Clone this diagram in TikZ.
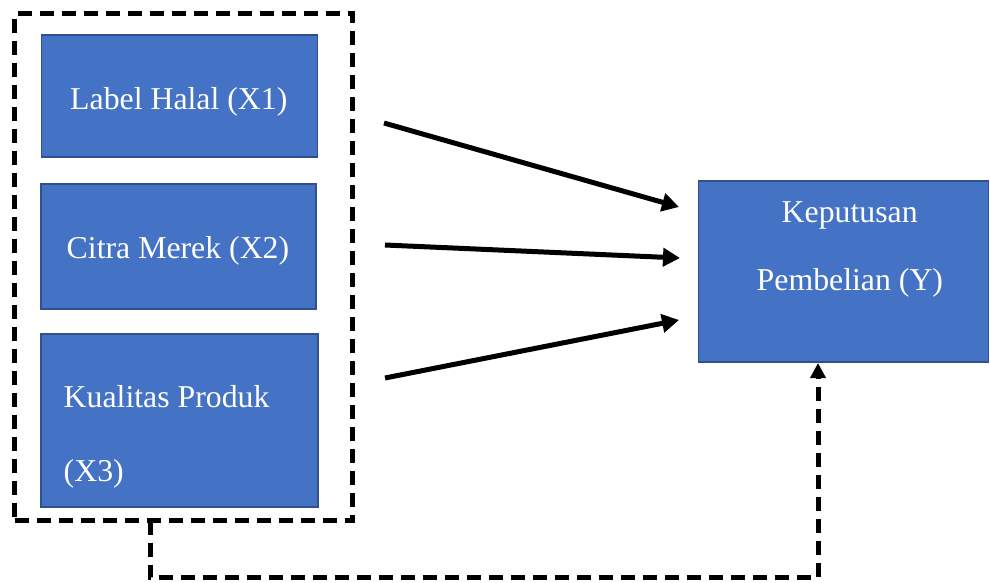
\documentclass[tikz,border=0pt]{standalone}
\usepackage{fontspec}
\setmainfont{Liberation Serif}
\usetikzlibrary{arrows.meta}
\definecolor{boxfill}{HTML}{4472C4}
\definecolor{boxline}{HTML}{2F528F}
\tikzset{
  bluebox/.style={draw=boxline, line width=1.5pt, fill=boxfill, inner sep=0pt, outer sep=0pt},
  txt/.style={text=white, font=\fontsize{31.8}{38}\selectfont, inner sep=0pt, anchor=base west},
  frame/.style={draw=black, line width=5pt, dash pattern=on 14pt off 8pt, inner sep=0pt, outer sep=0pt},
  solidarrow/.style={draw=black, line width=5pt, -{Triangle[length=17pt,width=18pt]}},
  dasharrow/.style={draw=black, line width=5pt, dash pattern=on 14pt off 8pt, -{Triangle[length=15pt,width=15pt]}}
}
\begin{document}
\begin{tikzpicture}[x=1pt,y=-1pt]
\useasboundingbox (0,0) rectangle (990,582);
% group frame
\node[frame, minimum width=338pt, minimum height=507pt] (grp) at (183.5,267) {};
% boxes
\node[bluebox, minimum width=276pt, minimum height=122pt] (x1) at (179.5,96) {};
\node[bluebox, minimum width=275pt, minimum height=125pt] (x2) at (178.5,246.5) {};
\node[bluebox, minimum width=277pt, minimum height=173pt] (x3) at (179.5,420.5) {};
\node[bluebox, minimum width=290pt, minimum height=181pt] (y) at (843.5,271.5) {};
% texts
\node[txt] (t1) at (70,109) {Label Halal (X1)};
\node[txt] (t2) at (66.5,258.3) {Citra Merek (X2)};
\node[txt] (t3a) at (63.5,407.7) {Kualitas Produk};
\node[txt] (t3b) at (63.5,481.5) {(X3)};
\node[txt] (ta) at (781.5,222.3) {Keputusan};
\node[txt] (tb) at (756.5,290) {Pembelian (Y)};
% arrow end points
\coordinate (s1) at (384,123);
\coordinate (e1) at (679,207);
\coordinate (s2) at (385,245);
\coordinate (e2) at (680,258);
\coordinate (s3) at (385,378);
\coordinate (e3) at (679,320);
\draw[solidarrow] (s1) -- (e1);
\draw[solidarrow] (s2) -- (e2);
\draw[solidarrow] (s3) -- (e3);
% dashed feedback connector
\coordinate (d1) at (150,577.5);
\coordinate (d2) at ([xshift=-25.5pt, yshift=-1pt]y.south);
\draw[dasharrow] (grp.south -| d1) -- (d1) -| (d2);
\end{tikzpicture}
\end{document}
